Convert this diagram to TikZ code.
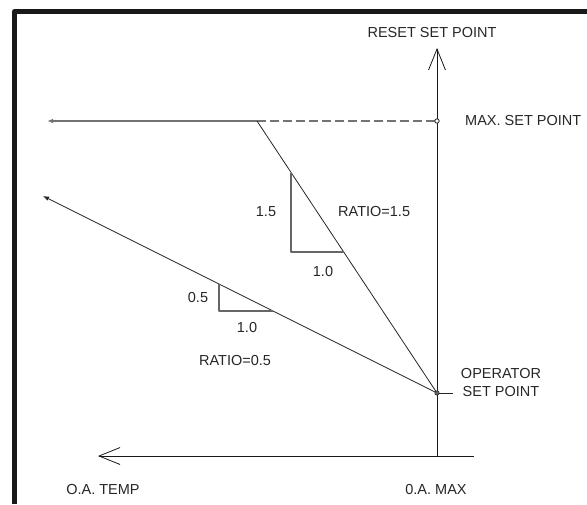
\documentclass[tikz,border=0pt]{standalone}
\usepackage{fontspec}
\setmainfont{Liberation Sans}
\usetikzlibrary{arrows.meta}

\tikzset{
  lbl/.style={inner sep=0pt, text=black!85, font=\fontsize{14.5}{16}\selectfont},
  axis/.style={black!90, line width=0.9pt},
  curve/.style={black!85, line width=0.8pt},
  slope/.style={black!60, line width=1.3pt},
  openhead/.style={-{Straight Barb[length=21pt, width=17pt, line width=0.8pt]}},
  smallhead/.style={-{Latex[length=6pt, width=4.5pt]}}
}

\begin{document}
\begin{tikzpicture}[x=1pt, y=-1pt, line join=round]
  \useasboundingbox (0,0) rectangle (587,504);

  % frame
  \draw [black!90, line width=5pt] (14.5,504) -- (14.5,11.5) -- (587,11.5);

  % key points
  \coordinate (oamax) at (437,456);
  \coordinate (op) at (437,393);
  \coordinate (mx) at (437,121);
  \coordinate (brk) at (257,121);
  \coordinate (ytop) at (437,48);
  \coordinate (xend) at (474,456);
  \coordinate (xtip) at (98,456);
  \coordinate (tipA) at (47,121);
  \coordinate (tipB) at (43,196);
  \coordinate (optick) at (453,393);

  % reset set point axis
  \draw [axis, openhead] (oamax) -- (ytop);

  % o.a. temp axis
  \draw [axis, openhead] (xend) -- (xtip);

  % ratio 1.5 line
  \draw [black!55, line width=1.3pt, smallhead] (brk) -- (tipA);
  \draw [black!55, line width=1.3pt, dash pattern=on 9pt off 4pt] (brk) -- (mx);
  \draw [curve] (brk) -- (op);

  % ratio 0.5 line
  \draw [curve, smallhead] (op) -- (tipB);

  % slope triangles
  \draw [slope] (291,173) -- (291,252) -- (343.5,252);
  \draw [slope] (219,284) -- (219,311) -- (273,311);

  % set points
  \draw [curve] (op) -- (optick);
  \filldraw [black!85, fill=black!60, line width=0.6pt] (op) circle (2.2pt);
  \filldraw [black!85, fill=white, line width=0.8pt] (mx) circle (2.2pt);

  % labels
  \node [lbl] (reset) at (432,33) {RESET SET POINT};
  \node [lbl, anchor=west] (maxsp) at (465,121) {MAX. SET POINT};
  \node [lbl, align=center] (oper) at (501,383) {OPERATOR\\[2pt]SET POINT};
  \node [lbl, anchor=west] (ratioA) at (338,212) {RATIO=1.5};
  \node [lbl] (riseA) at (266,212) {1.5};
  \node [lbl] (runA) at (323,272) {1.0};
  \node [lbl] (ratioB) at (235,361) {RATIO=0.5};
  \node [lbl] (riseB) at (198,298) {0.5};
  \node [lbl] (runB) at (247,328) {1.0};
  \node [lbl] (oatemp) at (103,490) {O.A. TEMP};
  \node [lbl] (oamaxlbl) at (436,490) {0.A. MAX};
\end{tikzpicture}
\end{document}
